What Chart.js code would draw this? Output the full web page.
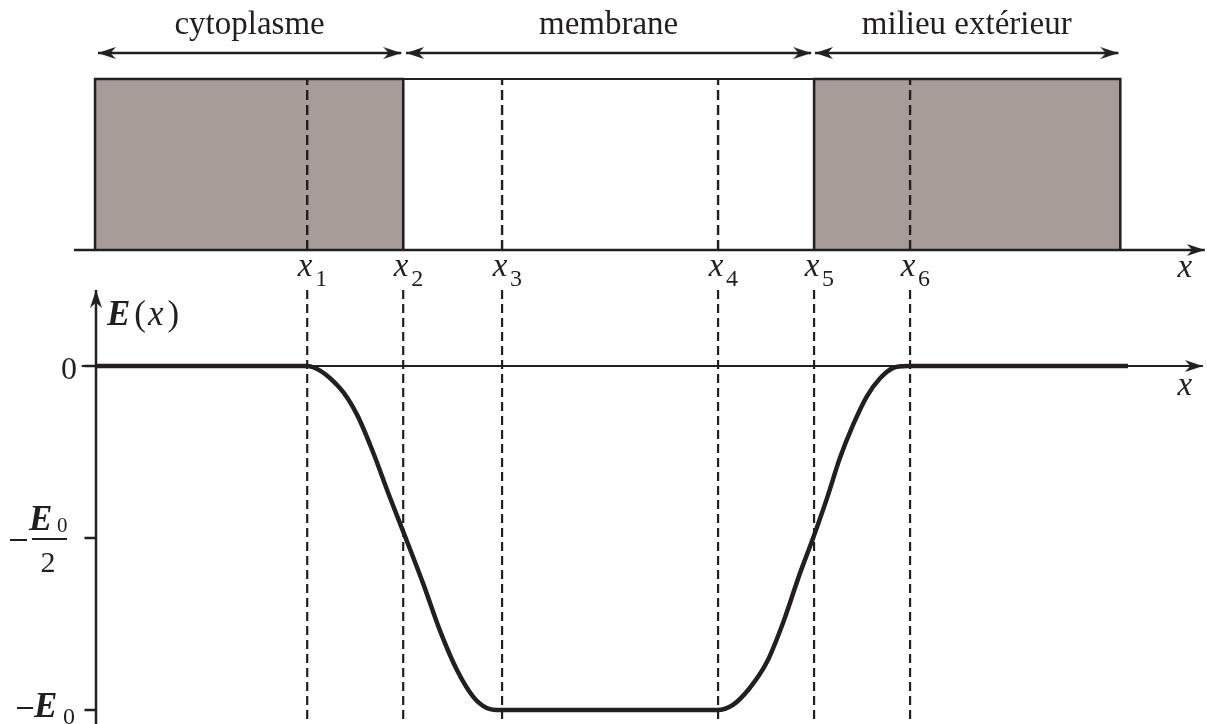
<!DOCTYPE html>
<html>
<head>
<meta charset="utf-8">
<script src="https://cdn.jsdelivr.net/npm/chart.js@4/dist/chart.umd.min.js"></script>
<style>
  html, body { margin: 0; background: #fff; }
  canvas { display: block; }
</style>
</head>
<body>
<canvas id="chart" width="1207" height="724"></canvas>
<script>
const INK = "#231f20";
const GREY = "#a89c98";

// abscisses x1..x6
const markNames = ["1", "2", "3", "4", "5", "6"];
const markX = [2.2, 3.2, 4.23, 6.48, 7.48, 8.48];

// zones (flèches du haut)
const zoneNames = ["cytoplasme", "membrane", "milieu extérieur"];
const zoneStart = [0.02, 3.23, 7.49];
const zoneEnd = [3.18, 7.45, 10.65];
const zoneArrowY = 1.152;

// boîtes
const boxLeft = [-0.01, 3.2, 7.48];
const boxRight = [3.2, 7.48, 10.67];
const boxFilled = [true, false, true];

// courbe E(x), en unités de E0
const curveX = [0, 2.19, 2.54, 2.72, 2.885, 3.06, 3.19, 3.41, 3.58, 3.76, 3.93, 4.07, 4.21,
  6.47, 6.635, 6.81, 6.99, 7.16, 7.33, 7.47, 7.615, 7.75, 7.885, 8.03, 8.17, 8.3, 8.45, 10.75];
const curveY = [0, 0, -0.064, -0.142, -0.25, -0.381, -0.474, -0.634, -0.767, -0.884, -0.962, -0.994, -1,
  -1, -0.985, -0.936, -0.86, -0.744, -0.605, -0.5, -0.384, -0.267, -0.172, -0.088, -0.035, -0.006, 0, 0];

const yTicks = [0, -0.5, -1];

// axes dessinés
const topAxisX = [-0.23, 11.55];
const xAxisX = [-0.15, 11.53];
const yAxisY = [-1.06, 0.221];

function makeArrow(len, half) {
  const c = document.createElement("canvas");
  c.width = len * 2;
  c.height = half * 2;
  const g = c.getContext("2d");
  g.fillStyle = INK;
  g.beginPath();
  g.moveTo(len, half);
  g.lineTo(0, 0);
  g.lineTo(len * 0.3, half);
  g.lineTo(0, half * 2);
  g.closePath();
  g.fill();
  return c;
}
const arrow = makeArrow(18, 6);

// segments séparés par des null
function segments(list) {
  const out = [];
  list.forEach((s, i) => {
    if (i > 0) out.push({ x: s[0].x, y: null });
    out.push(...s);
  });
  return out;
}

const base = {
  borderColor: INK, pointRadius: 0, tension: 0, fill: false, clip: false,
  spanGaps: false,
};

const datasets = [];

// courbe
datasets.push({
  ...base, order: 0, borderWidth: 4.5, cubicInterpolationMode: "monotone",
  data: curveX.map((v, i) => ({ x: v, y: curveY[i] })),
});

// boîtes
boxLeft.forEach((l, i) => {
  const r = boxRight[i];
  datasets.push({
    ...base, order: 5, yAxisID: "yTop", borderWidth: boxFilled[i] ? 2.5 : 2,
    backgroundColor: GREY, fill: boxFilled[i] ? "origin" : false,
    data: [{ x: l, y: 0 }, { x: l, y: 1 }, { x: r, y: 1 }, { x: r, y: 0 }],
  });
});

// pointillés
datasets.push({
  ...base, order: 3, yAxisID: "yTop", borderWidth: 2.4, borderDash: [10, 5],
  data: segments(markX.filter((v, i) => i !== 1 && i !== 4)
    .map(v => [{ x: v, y: 0 }, { x: v, y: 1 }])),
});
datasets.push({
  ...base, order: 3, borderWidth: 2.2, borderDash: [9, 5],
  data: segments(markX.map(v => [{ x: v, y: yAxisY[1] }, { x: v, y: yAxisY[0] }])),
});

// flèches des zones
zoneNames.forEach((n, i) => {
  datasets.push({
    ...base, order: 2, yAxisID: "yTop", borderWidth: 2.5,
    pointRadius: 3, pointStyle: arrow, pointRotation: [180, 0],
    data: [{ x: zoneStart[i], y: zoneArrowY }, { x: zoneEnd[i], y: zoneArrowY }],
  });
});

// axe du haut
datasets.push({
  ...base, order: 4, yAxisID: "yTop", borderWidth: 2.5,
  pointRadius: [0, 3], pointStyle: arrow, pointRotation: 0,
  data: [{ x: topAxisX[0], y: 0 }, { x: topAxisX[1], y: 0 }],
});

// axe x du graphe
datasets.push({
  ...base, order: 4, borderWidth: 2,
  pointRadius: [0, 3], pointStyle: arrow, pointRotation: 0,
  data: [{ x: xAxisX[0], y: 0 }, { x: xAxisX[1], y: 0 }],
});

// axe E(x)
datasets.push({
  ...base, order: 4, borderWidth: 2.5,
  pointRadius: [0, 3], pointStyle: arrow, pointRotation: [0, 270],
  data: [{ x: 0, y: yAxisY[0] }, { x: 0, y: yAxisY[1] }],
});

// graduations
datasets.push({
  ...base, order: 4, borderWidth: 2.5,
  data: segments(yTicks.map(t => [{ x: -0.12, y: t }, { x: 0, y: t }])),
});

const serif = "'Liberation Serif', 'Times New Roman', serif";

const labelsPlugin = {
  id: "labels",
  afterDatasetsDraw(chart) {
    const { ctx, scales: { x, y, yTop } } = chart;
    ctx.save();
    ctx.fillStyle = INK;
    ctx.strokeStyle = INK;
    ctx.textBaseline = "alphabetic";

    // noms des zones
    ctx.font = "33px " + serif;
    ctx.textAlign = "center";
    zoneNames.forEach((n, i) => {
      const cx = (x.getPixelForValue(zoneStart[i]) + x.getPixelForValue(zoneEnd[i])) / 2;
      ctx.fillText(n, cx, yTop.getPixelForValue(zoneArrowY) - 19);
    });

    // x1..x6
    const ly = yTop.getPixelForValue(0) + 26;
    markX.forEach((v, i) => {
      const px = x.getPixelForValue(v);
      ctx.font = "italic 33px " + serif;
      ctx.textAlign = "center";
      ctx.fillText("x", px - 2, ly);
      ctx.font = "24px " + serif;
      ctx.textAlign = "left";
      ctx.fillText(markNames[i], px + 8, ly + 10);
    });

    // x en bout d'axes
    ctx.font = "italic 33px " + serif;
    ctx.textAlign = "center";
    ctx.fillText("x", x.getPixelForValue(topAxisX[1]) - 20, ly + 1);
    ctx.fillText("x", x.getPixelForValue(xAxisX[1]) - 18, y.getPixelForValue(0) + 29);

    // E(x)
    const ex = x.getPixelForValue(0) + 11;
    const ey = y.getPixelForValue(0) - 41;
    ctx.textAlign = "left";
    ctx.font = "bold italic 35px " + serif;
    ctx.fillText("E", ex, ey);
    let w = ctx.measureText("E").width + 4;
    ctx.font = "35px " + serif;
    ctx.fillText("(", ex + w, ey);
    w += ctx.measureText("(").width + 2;
    ctx.font = "italic 35px " + serif;
    ctx.fillText("x", ex + w, ey);
    w += ctx.measureText("x").width + 4;
    ctx.font = "35px " + serif;
    ctx.fillText(")", ex + w, ey);

    // graduations
    const ax = x.getPixelForValue(0);
    const y0 = y.getPixelForValue(yTicks[0]);
    const y1 = y.getPixelForValue(yTicks[1]);
    const y2 = y.getPixelForValue(yTicks[2]);
    ctx.font = "32px " + serif;
    ctx.textAlign = "right";
    ctx.fillText("0", ax - 19, y0 + 13);

    ctx.lineWidth = 2;
    // -E0/2
    ctx.beginPath(); ctx.moveTo(ax - 86, y1 + 2); ctx.lineTo(ax - 69, y1 + 2); ctx.stroke();
    ctx.beginPath(); ctx.moveTo(ax - 64, y1 + 1); ctx.lineTo(ax - 29, y1 + 1); ctx.stroke();
    ctx.textAlign = "left";
    ctx.font = "bold italic 35px " + serif;
    ctx.fillText("E", ax - 67, y1 - 8);
    ctx.font = "21px " + serif;
    ctx.fillText("0", ax - 39, y1 - 6);
    ctx.font = "30px " + serif;
    ctx.textAlign = "center";
    ctx.fillText("2", ax - 48, y1 + 34);

    // -E0
    ctx.beginPath(); ctx.moveTo(ax - 79, y2 - 2); ctx.lineTo(ax - 63, y2 - 2); ctx.stroke();
    ctx.textAlign = "left";
    ctx.font = "bold italic 35px " + serif;
    ctx.fillText("E", ax - 62, y2 + 7);
    ctx.font = "24px " + serif;
    ctx.fillText("0", ax - 33, y2 + 14);

    ctx.restore();
  },
};

new Chart(document.getElementById("chart"), {
  type: "line",
  data: { datasets },
  options: {
    responsive: false,
    animation: false,
    events: [],
    layout: { padding: 0, autoPadding: false },
    plugins: { legend: { display: false }, tooltip: { enabled: false } },
    scales: {
      x: { type: "linear", min: -1, max: 11.573, display: false },
      y: { type: "linear", min: -1.0407, max: 1.064, display: false },
      yTop: { type: "linear", min: -2.772, max: 1.462, display: false },
    },
  },
  plugins: [labelsPlugin],
});
</script>
</body>
</html>
